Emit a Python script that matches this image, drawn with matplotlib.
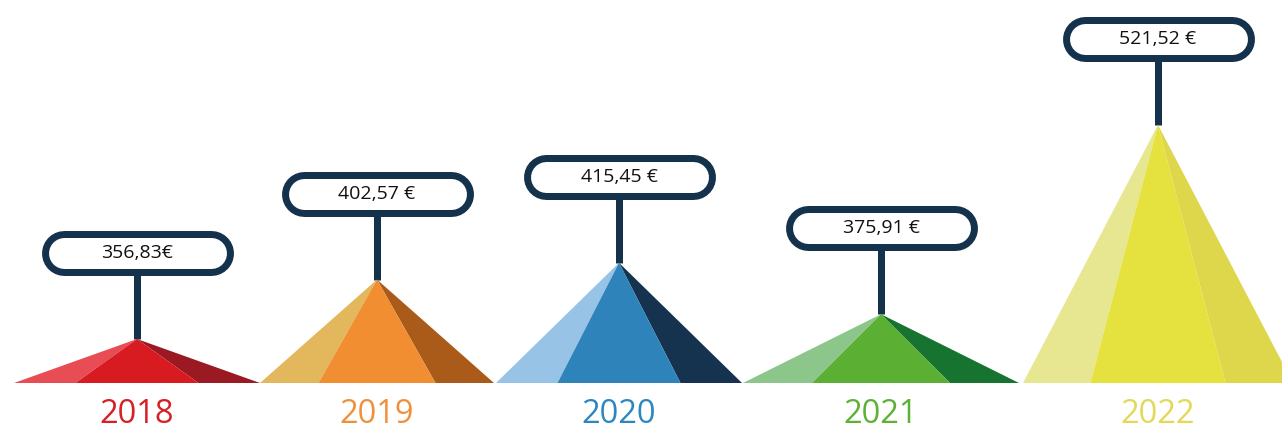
import matplotlib.pyplot as plt
from matplotlib.patches import Polygon
import matplotlib.transforms as mtransforms

# data
years = ['2018', '2019', '2020', '2021', '2022']
values = [356.83, 402.57, 415.45, 375.91, 521.52]
labels = ['356,83€', '402,57 €', '415,45 €', '375,91 €', '521,52 €']

# colours per pyramid: light face, front face, dark face, year text
light = ['#E84C55', '#E3B75B', '#97C4E6', '#8DC68B', '#E8E791']
front = ['#D71B20', '#F18E31', '#2E83BA', '#5BB034', '#E5E240']
dark = ['#9B1922', '#AA5B19', '#15334E', '#177330', '#DED64B']
txt_col = ['#D71F26', '#F0903A', '#2E86C1', '#5DB135', '#E2D85A']
navy = '#15324D'

# layout (x in pixels, y in euro)
xpos = [137, 377, 619, 881, 1158]
halfw = [123, 117, 123, 138, 135]
base = 323.0
px = 1.3  # pixels per euro
pt = 72 / 100  # points per pixel

fig = plt.figure(figsize=(12.82, 4.32), dpi=100)
ax = fig.add_axes([0, 0, 1, 1])
ax.set_xlim(0, 1282)
ax.set_ylim(base - 49 / px, base + 383 / px)
ax.axis('off')

trans_year = mtransforms.blended_transform_factory(ax.transData, ax.transAxes)

pill_w, pill_h, border = 192, 45, 7

for i in range(len(years)):
    x, v, w = xpos[i], values[i], halfw[i]
    box_c = v + 86 / px
    # pole up to the label
    ax.plot([x, x], [v, box_c], color=navy, lw=7 * pt,
            solid_capstyle='butt', zorder=1)
    # pyramid faces
    ax.add_patch(Polygon([(x - w, base), (x, v), (x - 0.5 * w, base)],
                         closed=True, fc=light[i], ec='none', zorder=2))
    ax.add_patch(Polygon([(x - 0.5 * w, base), (x, v), (x + 0.5 * w, base)],
                         closed=True, fc=front[i], ec='none', zorder=3))
    ax.add_patch(Polygon([(x + 0.5 * w, base), (x, v), (x + w, base)],
                         closed=True, fc=dark[i], ec='none', zorder=2))
    # value pill (thick round-capped lines)
    half = pill_w / 2 - pill_h / 2
    ax.plot([x - half, x + half], [box_c, box_c], color=navy,
            lw=pill_h * pt, solid_capstyle='round', zorder=4)
    ax.plot([x - half, x + half], [box_c, box_c], color='white',
            lw=(pill_h - 2 * border) * pt, solid_capstyle='round', zorder=5)
    ax.text(x, box_c, labels[i], ha='center', va='center', fontsize=14,
            family='Open Sans', color='#111111', zorder=6)
    # year
    ax.text(x, 0.02, years[i], transform=trans_year, ha='center',
            va='baseline', fontsize=23.5, family='Open Sans',
            color=txt_col[i])

fig.savefig('out.png', dpi=100)
